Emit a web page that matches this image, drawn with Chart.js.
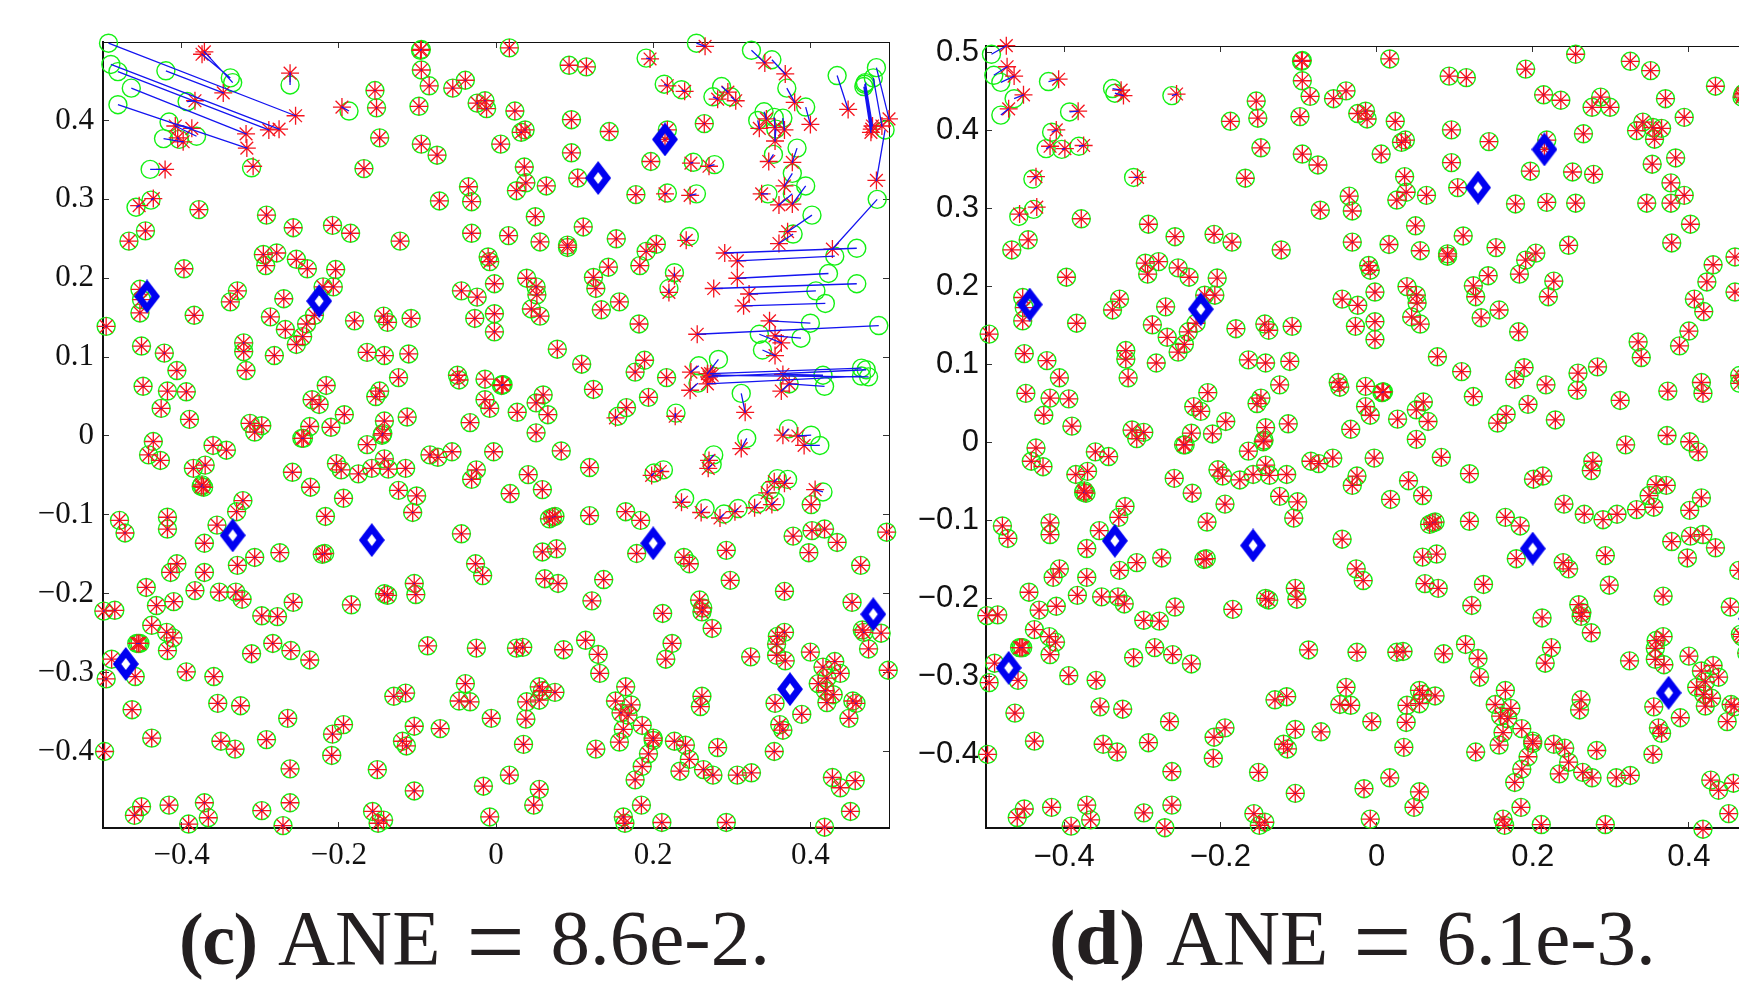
<!DOCTYPE html>
<html><head><meta charset="utf-8">
<script src="https://cdn.jsdelivr.net/npm/chart.js@4"></script>
<style>
html,body{margin:0;padding:0;background:#fff;overflow:hidden;width:1739px;height:982px}
canvas{position:absolute;top:0}
#cc{left:0}#cd{left:880px}
.cap{position:absolute;top:891px;font:79px/1.2 "Liberation Serif",serif;color:#231f20;white-space:pre}
.cap b{font-weight:700}
.cap i{font-style:normal;font-size:104px;line-height:0;position:relative;top:13px}
</style></head><body>
<canvas id="cc" width="900" height="900"></canvas>
<canvas id="cd" width="900" height="900"></canvas>
<div class="cap" style="left:179px;word-spacing:6px"><b style="font-size:74px;letter-spacing:-1.5px">(c)</b> ANE <i>=</i> 8.6e-2.</div>
<div class="cap" style="left:1049px;word-spacing:5px"><b>(d)</b> ANE <i>=</i> 6.1e-3.</div>
<script>
const settledX=[-.096,-.095,-.095,-.085,-.055,-.039,-.024,-.014,-.012,-.098,-.154,-.152,-.148,-.095,-.075,-.168,-.035,-.031,-.072,-.292,-.258,-.208,-.185,-.122,-.031,-.010,-.008,.006,-.378,-.446,-.467,-.397,-.296,-.293,-.279,-.254,-.240,-.204,-.220,-.207,-.270,-.287,-.268,-.241,-.231,-.246,-.254,-.329,-.338,-.384,-.453,-.451,-.453,-.496,-.451,-.422,-.406,-.449,-.418,-.394,-.426,-.390,-.321,-.321,-.318,-.282,-.180,-.143,-.138,-.108,-.164,-.142,-.111,-.124,-.148,-.153,-.216,-.234,-.225,-.193,-.237,-.210,-.142,-.113,-.144,-.049,-.047,-.014,.007,-.014,-.008,-.033,-.044,-.024,-.002,-.027,-.002,-.002,-.313,-.298,-.307,
.017,.093,.115,.265,.218,.215,.144,.096,.024,.037,.032,.036,.038,.026,.064,.096,.104,.178,.197,.050,.016,.056,.091,.091,.111,.153,.191,.204,.183,.143,.124,.127,.039,.051,.052,.045,.056,.134,.157,.182,.078,.109,.189,.177,.217,.124,.194,.166,.060,.051,.066,.027,.051,.008,.009,
-.003,.083,.119,.041,.059,.018,.075,.072,.068,.119,.165,.184,.059,.077,.179,.062,.079,.137,.122,.212,.401,.378,.402,.418,.434,.398,.497,.464,.453,.367,.239,.246,.293,.298,.259,.263,.262,.275,.224,.216,.026,.034,.086,.114,.130,.132,.324,.367,.358,.357,.357,.368,.400,.416,.431,.438,.421,.410,.419,.429,.421,.355,.389,.466,.468,.490,.474,.499,.454,.458,.449,.361,.365,.354,.055,.059,.075,.039,.055,.038,.035,.127,.165,.152,.172,.159,.168,.186,.162,.157,.200,.200,.194,.186,.177,.227,.241,.246,.234,.264,.276,.307,.325,.282,.262,.260,.428,.438,.457,.451,.418,.293,.211,.185,.162,.164,.055,.048,.017,-.006,
-.436,-.442,-.427,-.385,-.370,-.360,-.343,-.374,-.375,-.372,-.322,-.330,-.355,-.371,-.479,-.472,-.418,-.418,-.406,-.414,-.371,-.445,-.383,-.329,-.307,-.275,-.221,-.218,-.432,-.410,-.352,-.331,-.323,-.499,-.485,-.259,-.236,-.194,-.217,-.203,-.197,-.175,-.158,-.142,-.137,-.115,-.164,-.247,-.245,-.145,-.124,-.101,-.106,-.084,-.074,-.056,-.025,-.031,-.044,-.026,-.017,-.104,-.102,-.142,-.138,-.184,-.258,-.298,-.278,-.438,-.419,-.411,-.418,-.457,-.455,-.453,-.489,-.459,-.496,-.394,-.359,-.354,-.325,-.463,-.265,-.311,-.284,-.261,-.237,-.087,-.025,-.039,-.115,-.130,-.047,-.033,-.194,-.208,-.104,-.071,-.119,-.114,-.438,-.350,-.332,-.292,-.209,-.262,-.151,-.104,-.016,-.451,-.460,-.416,-.371,-.366,-.391,-.298,-.262,-.271,-.157,-.143,-.150,-.008,-.498];
const settledY=[.489,.490,.464,.444,.441,.451,.422,.425,.415,.418,.438,.416,.378,.370,.356,.339,.316,.297,.298,.280,.264,.267,.257,.247,.257,.227,.221,.370,.287,.260,.247,.212,.230,.216,.232,.224,.212,.211,.189,.189,.174,.151,.135,.142,.153,.126,.116,.184,.170,.153,.186,.173,.156,.139,.114,.105,.083,.063,.057,.056,.035,.021,.118,.107,.083,.102,.146,.152,.144,.149,.106,.102,.104,.074,.057,.050,.064,.046,.040,.027,.012,.011,.019,.024,.003,.077,.071,.072,.064,.046,.035,.017,.184,.176,.193,.149,.155,.132,.016,.013,.005,
.492,.470,.468,.396,.388,.376,.386,.401,.412,.388,.385,.341,.321,.311,.317,.359,.327,.306,.348,.278,.254,.246,.242,.239,.265,.250,.234,.243,.216,.214,.201,.187,.200,.189,.179,.161,.152,.160,.170,.142,.110,.091,.096,.081,.074,.059,.049,.036,.052,.042,.027,.030,.004,.065,.065,
-.020,-.019,-.040,-.049,-.068,-.073,-.102,-.103,-.105,-.101,-.096,-.107,-.147,-.143,-.149,-.181,-.187,-.182,-.209,-.225,-.087,-.127,-.120,-.118,-.135,-.148,-.122,-.164,-.211,-.197,-.154,-.162,-.145,-.183,-.208,-.218,-.223,-.244,-.263,-.283,-.269,-.268,-.271,-.259,-.277,-.301,-.280,-.249,-.254,-.264,-.278,-.285,-.274,-.293,-.286,-.301,-.307,-.314,-.323,-.328,-.338,-.339,-.353,-.246,-.249,-.250,-.270,-.297,-.336,-.339,-.358,-.366,-.373,-.400,-.318,-.323,-.325,-.337,-.335,-.359,-.391,-.397,-.318,-.336,-.341,-.351,-.354,-.367,-.372,-.388,-.383,-.386,-.403,-.419,-.436,-.387,-.392,-.410,-.425,-.423,-.430,-.430,-.427,-.395,-.330,-.343,-.433,-.446,-.437,-.476,-.496,-.490,-.490,-.468,-.483,-.491,-.448,-.468,-.430,-.358,
-.007,-.024,-.031,-.041,-.037,-.012,-.018,-.062,-.064,-.065,-.082,-.096,-.113,-.136,-.107,-.123,-.103,-.118,-.162,-.173,-.173,-.192,-.196,-.164,-.154,-.148,-.150,-.149,-.215,-.210,-.198,-.198,-.207,-.222,-.221,-.046,-.065,-.079,-.102,-.035,-.043,-.048,-.041,-.029,-.042,-.041,-.011,-.003,-.003,.001,-.069,-.076,-.097,-.024,-.027,-.020,-.043,-.055,-.124,-.162,-.177,-.187,-.201,-.200,-.202,-.214,-.211,-.228,-.229,-.240,-.249,-.256,-.272,-.263,-.263,-.263,-.283,-.305,-.308,-.299,-.305,-.339,-.342,-.347,-.358,-.276,-.263,-.272,-.284,-.266,-.269,-.314,-.326,-.330,-.336,-.337,-.366,-.378,-.368,-.371,-.387,-.393,-.383,-.387,-.397,-.385,-.405,-.422,-.423,-.450,-.444,-.470,-.481,-.468,-.465,-.484,-.492,-.475,-.465,-.494,-.476,-.487,-.491,-.483,-.400];
const movedX=[-.493,-.490,-.481,-.464,-.481,-.420,-.338,-.335,-.393,-.416,-.423,-.403,-.381,-.440,-.262,-.458,-.439,-.311,-.187,
.255,.325,.351,.370,.394,.434,.484,.480,.470,.469,.468,.495,.485,.459,.431,.423,.459,.407,.419,.400,.487,.388,.335,.339,.341,.333,.354,.365,.356,.383,.353,.377,.394,.377,.346,.402,.378,.258,.257,.283,.465,.471,.465,.474,.416,.418,.373,.312,.319,.372,.401,.412,
.191,.214,.236,.287,.276,.299,.255,.218,.251,.278,.246,.227,.220,.155,.229,.277,.275,.201,.213,.416,.240,.266,.290,.308,.333,.349,.358,.371,.355];
const movedY=[.498,.471,.462,.441,.420,.463,.454,.448,.424,.398,.377,.376,.380,.338,.445,.290,.299,.340,.412,
.498,.489,.477,.441,.417,.457,.467,.454,.448,.446,.443,.388,.300,.238,.228,.206,.193,.184,.168,.143,.140,.124,.129,.109,.411,.400,.404,.403,.389,.365,.357,.333,.317,.307,.307,.280,.256,.089,.067,.097,.086,.084,.076,.075,.077,.063,.066,.054,-.003,.009,.001,-.012,
.479,.446,.439,.443,.430,.430,.307,.308,.347,.344,.253,.207,.187,.025,.029,-.024,-.036,-.047,-.043,-.071,-.079,-.092,-.099,-.092,-.086,-.068,-.054,-.055,-.083];
const movedEstX=[-.255,-.276,-.289,-.318,-.317,-.347,-.374,-.371,-.383,-.387,-.398,-.405,-.408,-.421,-.262,-.454,-.436,-.309,-.196,
.266,.342,.368,.380,.400,.448,.500,.491,.479,.478,.477,.484,.428,.291,.307,.307,.277,.322,.315,.348,.256,.355,.363,.355,.344,.335,.355,.367,.355,.377,.347,.367,.377,.360,.338,.371,.360,.248,.247,.269,.273,.271,.269,.275,.365,.373,.363,.317,.312,.365,.384,.392,
.196,.218,.240,.295,.282,.305,.247,.215,.248,.271,.242,.227,.220,.152,.228,.271,.270,.198,.209,.406,.236,.261,.285,.304,.329,.345,.354,.367,.351];
const movedEstY=[.406,.389,.388,.383,.365,.435,.484,.487,.425,.390,.373,.378,.393,.338,.460,.292,.301,.342,.417,
.494,.473,.459,.423,.395,.414,.402,.393,.393,.389,.385,.324,.237,.232,.222,.200,.187,.180,.165,.146,.129,.127,.118,.102,.402,.390,.391,.388,.374,.347,.348,.317,.294,.293,.307,.259,.244,.081,.058,.079,.079,.075,.066,.077,.078,.066,.057,.030,-.016,.001,.000,-.012,
.478,.444,.437,.436,.427,.425,.305,.307,.346,.342,.248,.203,.182,.023,.025,-.031,-.041,-.050,-.045,-.068,-.084,-.097,-.104,-.096,-.091,-.072,-.058,-.060,-.087];
const driftDX=[.019,.017,.017,.012,.010,.013,.011,.011,.011,.006,.005,.004,.006,.004,.006,.001,.004,.005];
const driftDY=[.011,.011,.008,.005,.008,.003,-.002,-.003,.001,.003,.003,.001,.001,.003,.002,.003,.003,0];
const anchorX=[-.444,-.225,.130,.215,-.335,-.158,.200,.374,.480,-.471];
const anchorY=[.177,.171,.327,.376,-.126,-.132,-.136,-.321,-.226,-.289];
const xTicks=[-.4,-.2,0,.2,.4];
const yTicksC=[-.4,-.3,-.2,-.1,0,.1,.2,.3,.4];
const yTicksD=[-.4,-.3,-.2,-.1,0,.1,.2,.3,.4,.5];

const pairs=(xs,ys)=>xs.map((x,i)=>({x,y:ys[i]}));
const truth=pairs(settledX.concat(movedX),settledY.concat(movedY));
const estC=pairs(settledX.concat(movedEstX),settledY.concat(movedEstY));
const estD=pairs(settledX.concat(movedX.map((v,i)=>v+(driftDX[i]||0))),settledY.concat(movedY.map((v,i)=>v+(driftDY[i]||0))));
const links=(from,to)=>{const o=[];from.forEach((p,i)=>{o.push(p,to[i],{x:NaN,y:NaN});});return o;};

function diamond(){
  const c=document.createElement('canvas');c.width=26;c.height=34;
  const g=c.getContext('2d');const w=13,h=17;
  g.fillStyle='#0000f0';g.beginPath();
  g.moveTo(w,0);g.lineTo(26,h);g.lineTo(w,34);g.lineTo(0,h);g.closePath();
  g.moveTo(w,h-6);g.lineTo(w+4.5,h);g.lineTo(w,h+6);g.lineTo(w-4.5,h);g.closePath();
  g.fill('evenodd');return c;
}
const fmt=v=>{const r=Math.round(v*10)/10;return r===0?'0':String(r).replace('-','\u2212');};
function axis(ticks,min,max,pos,size,font,show,bw,pad){
  const horizontal=pos==='top'||pos==='bottom';
  return {type:'linear',axis:horizontal?'x':'y',position:pos,min,max,display:true,
    afterBuildTicks:s=>{s.ticks=ticks.map(v=>({value:v}));},
    afterFit:s=>{if(horizontal)s.height=size;else s.width=size;},
    grid:{drawOnChartArea:false,drawTicks:true,tickLength:-6,tickWidth:1,tickColor:'#333',color:'#333'},
    border:{display:true,width:bw,color:'#111'},
    ticks:{display:show,autoSkip:false,maxRotation:0,minRotation:0,padding:pad,color:'#111',font,callback:fmt}};
}
function build(id,est,ys,yMin,yMax,fam,fontSize,dims,dot){
  const font={family:fam,size:fontSize};
  const sets=[
    {data:truth,pointStyle:'circle',pointRadius:9,pointBorderColor:'#14f014',pointBorderWidth:1.4,pointBackgroundColor:'rgba(0,0,0,0)',showLine:false,clip:false,order:5},
    {data:est,pointStyle:'star',pointRadius:9,pointBorderColor:'#f5141e',pointBorderWidth:1.3,showLine:false,clip:false,order:4},
    {data:est,pointStyle:'circle',pointRadius:dot,pointBorderWidth:0,pointBackgroundColor:'#1a1ae6',showLine:false,clip:false,order:3},
    {data:links(truth.slice(settledX.length),est.slice(settledX.length)),showLine:true,pointRadius:0,borderColor:'#1414f0',borderWidth:1.3,spanGaps:false,clip:false,order:2},
    {data:pairs(anchorX,anchorY),pointStyle:diamond(),pointRadius:13,showLine:false,clip:false,order:1}
  ];
  new Chart(document.getElementById(id),{type:'scatter',data:{datasets:sets},
    options:{responsive:false,animation:false,events:[],
      layout:{padding:0,autoPadding:false},
      plugins:{legend:{display:false},tooltip:{enabled:false},title:{display:false}},
      scales:{
        x:axis(xTicks,-.5,.5,'bottom',dims.b,font,true,2,dims.xpad),
        y:axis(ys,yMin,yMax,'left',dims.l,font,true,2,dims.ypad),
        x2:axis(xTicks,-.5,.5,'top',dims.t,font,false,1,0),
        y2:axis(ys,yMin,yMax,'right',dims.r,font,false,1,0)
      }}});
}
build('cc',estC,yTicksC,-.497,.4995,'"Liberation Serif",serif',31,{l:103,r:11,t:42,b:72,xpad:15,ypad:15},.8);
build('cd',estD,yTicksD,-.4944,.5086,'"Liberation Sans",sans-serif',31,{l:106,r:13,t:46,b:72,xpad:17,ypad:13},.6);
</script>
</body></html>
